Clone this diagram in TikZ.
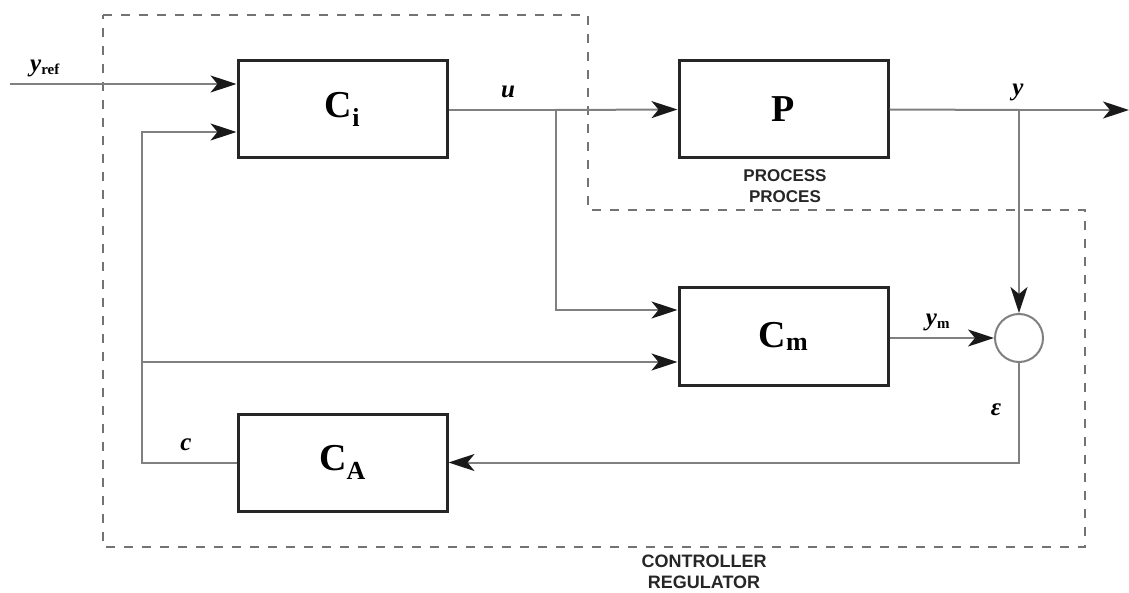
\documentclass[tikz,border=0pt]{standalone}
\usepackage{fontspec}
\setmainfont{Liberation Serif}
\setsansfont{Liberation Sans}
\usetikzlibrary{arrows.meta}
\begin{document}
\begin{tikzpicture}[x=1pt,y=-1pt,
  blk/.style={draw=black!85,line width=3pt,minimum width=209pt,minimum height=97pt,inner sep=0pt,font=\fontsize{38}{40}\selectfont\bfseries},
  wire/.style={draw=black!50,line width=2pt},
  arr/.style={wire,-{Stealth[length=26pt,width=17pt,inset=7pt,color=black!90]}},
  bound/.style={draw=black!55,line width=1.5pt,dash pattern=on 9pt off 9pt},
  lbl/.style={font=\fontsize{25}{26}\selectfont\bfseries\itshape,inner sep=0pt},
  captxt/.style={font=\sffamily\bfseries\fontsize{17}{21.5}\selectfont,align=center,text=black!85,inner sep=0pt},
  captxtb/.style={captxt,font=\sffamily\bfseries\fontsize{18}{21}\selectfont}]
\useasboundingbox (0,0) rectangle (1129,593);
% boundary
\draw[bound] (103,15) -- (588,15) -- (588,210) -- (1085,210) -- (1085,547) -- (103,547) -- cycle;
% blocks
\node[blk] (ci) at (342.5,109.5) {C\textsubscript{\fontsize{26}{26}\selectfont i}};
\node[blk] (p) at (783.5,109.5) {P};
\node[blk] (cm) at (783.5,336.5) {C\textsubscript{\fontsize{26}{26}\selectfont m}};
\node[blk] (ca) at (342.5,462.5) {C\textsubscript{\fontsize{26}{26}\selectfont A}};
\node[circle,draw=black!50,line width=2pt,minimum size=48pt,inner sep=0pt] (sum) at (1019,338) {};
% coordinates
\coordinate (yin) at (10,84);
\coordinate (ubr) at (556,110);
\coordinate (ybr) at (1019,110);
\coordinate (yout) at (1129,110);
\coordinate (cbr) at (142,362);
% connectors
\draw[arr] (yin) -- (yin -| ci.west);
\draw[wire] (ci.east |- ubr) -- (ubr);
\draw[arr] (ubr) -- (p.west);
\draw[arr] (ubr) |- (556,310) -- (cm.west |- 0,310);
\draw[wire] (p.east) -- (ybr);
\draw[arr] (ybr) -- (yout);
\draw[arr] (ybr) -- (sum.north);
\draw[arr] (cm.east |- sum) -- (sum.west);
\draw[arr] (sum.south) |- (ca.east);
\draw[arr] (ca.west) -| (cbr) |- (ci.west |- 0,132);
\draw[arr] (cbr) -- (cm.west |- cbr);
% labels
\node[lbl] (lyref) at (45,68) {y\textsubscript{\fontsize{15}{15}\selectfont\upshape ref}};
\node[lbl] (lu) at (508,92) {u};
\node[lbl] (ly) at (1018,92) {y};
\node[lbl] (lym) at (938,322) {y\textsubscript{\fontsize{15}{15}\selectfont\upshape m}};
\node[lbl] (leps) at (996,410) {ε};
\node[lbl] (lc) at (186,445) {c};
\node[captxt] (lproc) at (785,186) {PROCESS\\PROCES};
\node[captxtb] (lctrl) at (704,572) {CONTROLLER\\REGULATOR};
\end{tikzpicture}
\end{document}
